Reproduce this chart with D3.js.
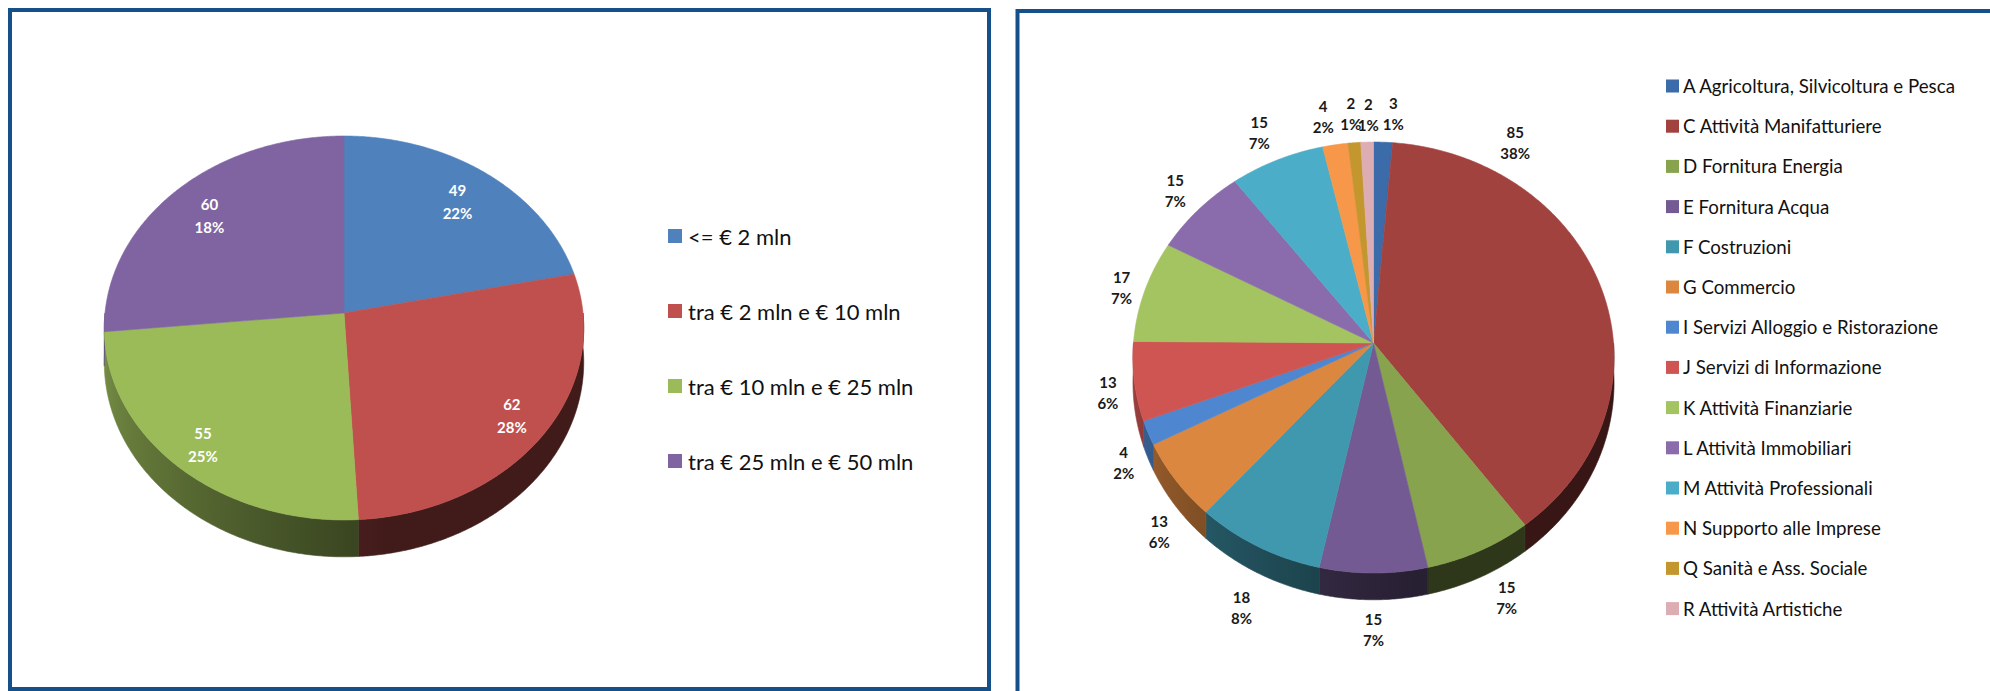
<!DOCTYPE html>
<html lang="it">
<head>
<meta charset="utf-8">
<title>Imprese per classe dimensionale e per settore</title>
<script src="https://cdn.jsdelivr.net/npm/d3@7"></script>
<style>
  html, body { margin: 0; padding: 0; background: #ffffff; }
  svg { display: block; }
  text { font-family: Lato, "Open Sans", "Noto Sans", sans-serif; }
</style>
</head>
<body>
<svg id="chart" width="1990" height="691"></svg>
<script>
// ---- Data: size classes (left pie) ----
const sizeClasses = ["<= € 2 mln", "tra € 2 mln e € 10 mln", "tra € 10 mln e € 25 mln", "tra € 25 mln e € 50 mln"];
const sizeCounts = [49, 62, 55, 60];
const sizePctLabels = ["22%", "28%", "25%", "18%"];
const sizeColors = ["#4F81BD", "#C0504D", "#9BBB59", "#8064A2"];

// ---- Data: economic sectors (right pie) ----
const sectorNames = [
  "A Agricoltura, Silvicoltura e Pesca",
  "C Attività Manifatturiere",
  "D Fornitura Energia",
  "E Fornitura Acqua",
  "F Costruzioni",
  "G Commercio",
  "I Servizi Alloggio e Ristorazione",
  "J Servizi di Informazione",
  "K Attività Finanziarie",
  "L Attività Immobiliari",
  "M Attività Professionali",
  "N Supporto alle Imprese",
  "Q Sanità e Ass. Sociale",
  "R Attività Artistiche"
];
const sectorCounts = [3, 85, 15, 15, 18, 13, 4, 13, 17, 15, 15, 4, 2, 2];
const sectorPctLabels = ["1%", "38%", "7%", "7%", "8%", "6%", "2%", "6%", "7%", "7%", "7%", "2%", "1%", "1%"];
const sectorColors = ["#3B6BA9", "#A2423F", "#87A34D", "#735A93", "#3F98AE", "#DC873F",
                      "#4E87CF", "#CF5553", "#A4C462", "#8A6BAC", "#4BADC8", "#F7974A",
                      "#C4962E", "#DDADB4"];

const svg = d3.select("#chart");
const defs = svg.append("defs");

// ---- Panel frames ----
const frameColor = "#16508A";
svg.append("rect").attr("x", 10).attr("y", 10).attr("width", 979).attr("height", 679)
  .attr("fill", "#fff").attr("stroke", frameColor).attr("stroke-width", 4);
svg.append("rect").attr("x", 1017.5).attr("y", 11).attr("width", 1100).attr("height", 760)
  .attr("fill", "#fff").attr("stroke", frameColor).attr("stroke-width", 4);

// Perspective projection of a tilted disc: angle measured clockwise from 12 o'clock,
// h = 0 for the top face, h = 1 for the bottom face.
function makeProjection(cx, cy, rx, ry, e, depth) {
  const p = (a, h = 0, r = 1) => {
    const s = Math.sin(a), c = Math.cos(a);
    const g = 1 / (1 + e * c);
    return [cx + rx * r * s * g, cy - ry * r * c * g + h * depth * g];
  };
  p.cx = cx; p.cy = cy; p.rx = rx; p.ry = ry; p.depth = depth;
  return p;
}

function arcPoints(proj, a0, a1, h) {
  const n = Math.max(2, Math.ceil(Math.abs(a1 - a0) / (Math.PI / 360)));
  return d3.range(n + 1).map(i => proj(a0 + (a1 - a0) * i / n, h));
}

// Side-wall shade factor: darker on the right and front, lighter towards the left
function shade(a) {
  const deg = a * 180 / Math.PI;
  if (deg <= 170) return 0.34;
  return 0.34 + 0.44 * Math.min(1, (deg - 170) / 100);
}

function darken(color, k) {
  const c = d3.rgb(color);
  return d3.rgb(c.r * k, c.g * k, c.b * k).formatHex();
}

function drawPie3D(g, id, values, colors, proj) {
  const arcs = d3.pie().sort(null).value(d => d)(values);
  const line = d3.line();
  const front0 = Math.PI / 2, front1 = 3 * Math.PI / 2;

  // Outer side walls (only the front half is visible)
  arcs.forEach((d, i) => {
    const a0 = Math.max(d.startAngle, front0), a1 = Math.min(d.endAngle, front1);
    if (a1 <= a0) return;
    const gid = `${id}-side-${i}`;
    const grad = defs.append("linearGradient").attr("id", gid)
      .attr("gradientUnits", "userSpaceOnUse")
      .attr("x1", proj.cx + proj.rx * 1.01).attr("y1", 0)
      .attr("x2", proj.cx - proj.rx * 1.01).attr("y2", 0);
    d3.range(0, 181, 10).forEach(deg => {
      const a = front0 + deg * Math.PI / 180;
      const t = (1 - Math.sin(a)) / 2;
      grad.append("stop").attr("offset", t).attr("stop-color", darken(colors[i], shade(a)));
    });
    const top = arcPoints(proj, a0, a1, 0);
    const bottom = arcPoints(proj, a0, a1, 1).reverse();
    g.append("path")
      .attr("d", line(top.concat(bottom)) + "Z")
      .attr("fill", `url(#${gid})`)
      .attr("stroke", `url(#${gid})`).attr("stroke-width", 0.6);
  });

  // Top faces
  arcs.forEach((d, i) => {
    const pts = [proj(0, 0, 0)].concat(arcPoints(proj, d.startAngle, d.endAngle, 0));
    g.append("path")
      .attr("d", line(pts) + "Z")
      .attr("fill", colors[i])
      .attr("stroke", colors[i]).attr("stroke-width", 0.6);
  });
  return arcs;
}

function drawLabel(g, x, y, lines, spacing, color, size) {
  lines.forEach((t, k) => {
    g.append("text")
      .attr("x", x).attr("y", y + (k - (lines.length - 1) / 2) * spacing)
      .attr("text-anchor", "middle").attr("dominant-baseline", "central")
      .attr("font-size", size).attr("font-weight", 700)
      .attr("fill", color).text(t);
  });
}

// ---- Left chart: size classes ----
const leftG = svg.append("g");
const projL = makeProjection(344, 313, 239, 190.8, 0.078, 34);
const arcsL = drawPie3D(leftG, "size", sizeCounts, sizeColors, projL);
arcsL.forEach((d, i) => {
  const a = (d.startAngle + d.endAngle) / 2;
  const r = 0.80 + 0.07 * Math.max(0, -Math.cos(a));
  const [x, y] = projL(a, 0, r);
  drawLabel(leftG, x, y, [String(sizeCounts[i]), sizePctLabels[i]], 23, "#ffffff", 15);
});

const legL = svg.append("g");
sizeClasses.forEach((name, i) => {
  const y = 236 + i * 75;
  legL.append("rect").attr("x", 668).attr("y", y - 7).attr("width", 14).attr("height", 14)
    .attr("fill", sizeColors[i]);
  legL.append("text").attr("x", 688).attr("y", y).attr("dominant-baseline", "central")
    .attr("font-size", 22).attr("fill", "#111").text(name);
});

// ---- Right chart: sectors ----
const rightG = svg.append("g");
const projR = makeProjection(1373.5, 343, 240, 214.5, 0.0673, 25);
const arcsR = drawPie3D(rightG, "sector", sectorCounts, sectorColors, projR);

// Outside labels: placed just beyond the rim; the large slice's label sits higher up
// and the thin slices at the top are spread apart so they do not overlap.
const labelAngleOverride = { 1: 35 };
const labelNudge = {
  0: [9, 1], 1: [-6, -9], 2: [15, -7], 4: [-3, 8], 5: [7, 7], 6: [3, -8],
  7: [3, -19], 8: [6, 4], 10: [-5, 0], 11: [-7, 1], 12: [-1, 1], 13: [2, 2]
};
arcsR.forEach((d, i) => {
  let a = (d.startAngle + d.endAngle) / 2;
  if (labelAngleOverride[i] !== undefined) a = labelAngleOverride[i] * Math.PI / 180;
  const onFront = Math.cos(a) < 0;
  const [ex, ey] = projR(a, onFront ? 1 : 0);
  const off = 30;
  const n = labelNudge[i] || [0, 0];
  const x = ex + Math.sin(a) * off + n[0];
  const y = ey - Math.cos(a) * off + n[1];
  drawLabel(rightG, x, y, [String(sectorCounts[i]), sectorPctLabels[i]], 21, "#1a1a1a", 15);
});

const legR = svg.append("g");
sectorNames.forEach((name, i) => {
  const y = 86 + i * 40.2;
  legR.append("rect").attr("x", 1666).attr("y", y - 6.5).attr("width", 13).attr("height", 13)
    .attr("fill", sectorColors[i]);
  legR.append("text").attr("x", 1683).attr("y", y).attr("dominant-baseline", "central")
    .attr("font-size", 18.7).attr("fill", "#111").text(name);
});
</script>
</body>
</html>
